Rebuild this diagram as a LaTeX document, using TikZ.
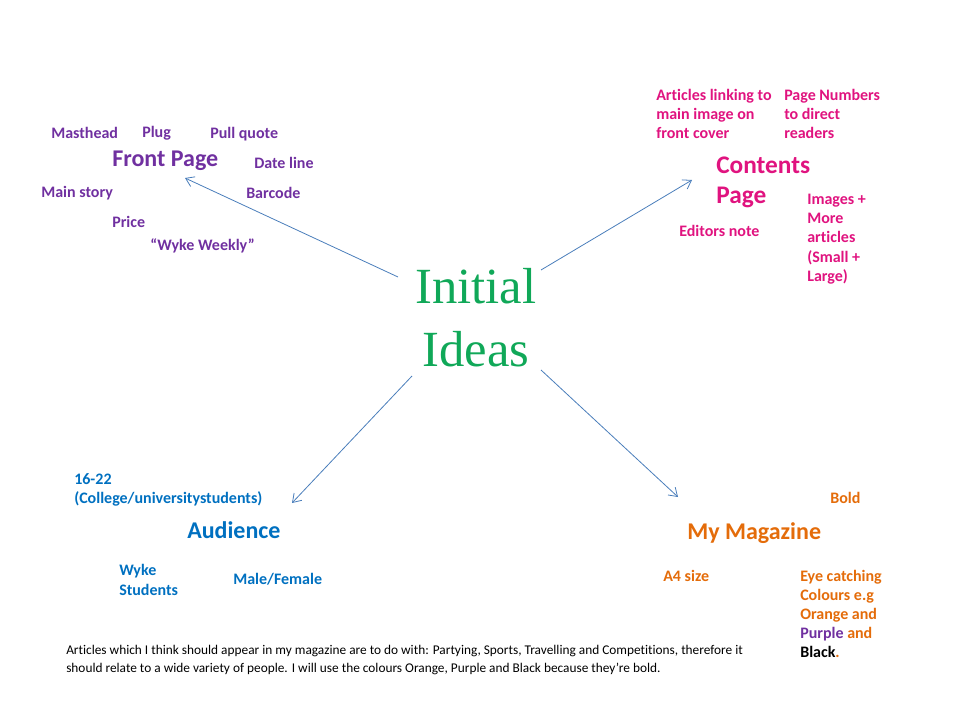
\documentclass[tikz,border=0pt]{standalone}
\usepackage{fontspec}
\setmainfont[Ligatures={TeX,NoCommon}]{Carlito}
\newfontfamily\titlefont{Liberation Serif}
\usetikzlibrary{positioning, arrows.meta}
\definecolor{fpPurple}{HTML}{7030A0}
\definecolor{cpPink}{HTML}{E0137F}
\definecolor{audBlue}{HTML}{0070C0}
\definecolor{magOrange}{HTML}{E46C0A}
\definecolor{ideaGreen}{HTML}{10A858}
\definecolor{linkBlue}{HTML}{4A7EBB}
\tikzset{
  item/.style={anchor=west, inner sep=0pt, align=left, font=\bfseries\fontsize{12}{14.4}\selectfont},
  heading/.style={anchor=west, inner sep=0pt, align=left, font=\bfseries\fontsize{18}{22}\selectfont},
  link/.style={draw=linkBlue, line width=0.6pt, -{Straight Barb[length=6pt,width=8pt]}}
}

\begin{document}
\begin{tikzpicture}[x=0.75pt,y=-0.75pt]
    \useasboundingbox (0,0) rectangle (960,720);

    % centre
    \node[inner sep=0pt, text=ideaGreen, align=center,
          font=\titlefont\fontsize{38}{47}\selectfont] (ideas) at (476,318) {Initial\\Ideas};

    % front page
    \node[heading, text=fpPurple] (front) at (112,161) {Front Page};
    \foreach \txt/\x/\y [count=\i] in {Masthead/51/133, Plug/142/133, Pull quote/210/134,
                                      Date line/254/163, Main story/41/193, Barcode/246/193,
                                      Price/112/222, {``Wyke Weekly''}/150/246}{
      \node[item, text=fpPurple] (fp\i) at (\x,\y) {\txt};
    }

    % contents page
    \node[heading, text=cpPink, font=\bfseries\fontsize{19}{22.5}\selectfont] (contents) at (716,182) {Contents\\Page};
    \node[item, text=cpPink] (cp1) at (656,114) {Articles linking to\\main image on\\front cover};
    \node[item, text=cpPink] (cp2) at (784,114) {Page Numbers\\to direct\\readers};
    \node[item, text=cpPink] (cp3) at (679,231) {Editors note};
    \node[item, text=cpPink] (cp4) at (807,239) {Images +\\More\\articles\\(Small +\\Large)};

    % audience
    \node[heading, text=audBlue] (audience) at (187,530) {Audience};
    \node[item, text=audBlue] (aud1) at (74,490) {16-22\\(College/universitystudents)};
    \node[item, text=audBlue] (aud2) at (119,580) {Wyke\\Students};
    \node[item, text=audBlue] (aud3) at (233,579) {Male/Female};

    % my magazine
    \node[heading, text=magOrange] (magazine) at (687,533) {My Magazine};
    \node[item, text=magOrange] (mag1) at (830,498) {Bold};
    \node[item, text=magOrange] (mag2) at (663,576) {A4 size};
    \node[item, text=magOrange] (mag3) at (800,614) {Eye catching\\Colours e.g\\Orange and\\
      \textcolor{fpPurple}{Purple} and\\\textcolor{black}{Black}.};

    % note
    \node[anchor=west, inner sep=0pt, align=left, font=\fontsize{10}{12.8}\selectfont] (note) at (66,660)
      {Articles which I think should appear in my magazine  are  to do with: Partying, Sports, Travelling and Competitions, therefore it\\
       should relate to a wide variety of people. I will use the  colours Orange, Purple and Black because they’re bold.};

    % arrows
    \coordinate (fpStart) at (398,277);   \coordinate (fpEnd) at (185,178);
    \coordinate (cpStart) at (541,270);   \coordinate (cpEnd) at (692,180);
    \coordinate (audStart) at (412,376);  \coordinate (audEnd) at (292,503);
    \coordinate (magStart) at (541,370);  \coordinate (magEnd) at (678,497);
    \draw[link] (fpStart) -- (fpEnd);
    \draw[link] (cpStart) -- (cpEnd);
    \draw[link] (audStart) -- (audEnd);
    \draw[link] (magStart) -- (magEnd);
\end{tikzpicture}
\end{document}
